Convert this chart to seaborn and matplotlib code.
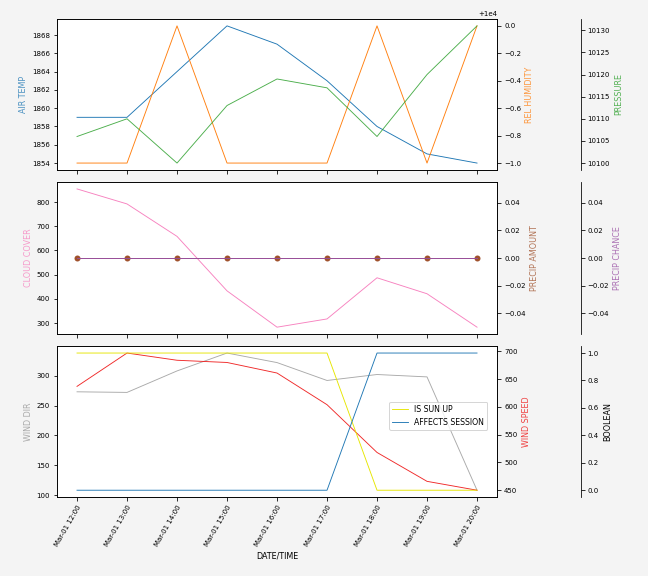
import matplotlib
matplotlib.use("Agg")
import matplotlib.pyplot as plt
import matplotlib.dates as mdates
import seaborn as sns
import pandas as pd

times = ["2024-03-01 12:00", "2024-03-01 13:00", "2024-03-01 14:00", "2024-03-01 15:00",
         "2024-03-01 16:00", "2024-03-01 17:00", "2024-03-01 18:00", "2024-03-01 19:00",
         "2024-03-01 20:00"]
air_temp = [1859, 1859, 1864, 1869, 1867, 1863, 1858, 1855, 1854]
rel_humidity = [9999, 9999, 10000, 9999, 9999, 9999, 10000, 9999, 10000]
pressure = [10106, 10110, 10100, 10113, 10119, 10117, 10106, 10120, 10131]
cloud_cover = [854, 792, 658, 433, 283, 317, 487, 421, 283]
precip_amount = [0, 0, 0, 0, 0, 0, 0, 0, 0]
precip_chance = [0, 0, 0, 0, 0, 0, 0, 0, 0]
wind_dir = [273, 272, 308, 338, 322, 292, 302, 298, 108]
wind_speed = [637, 697, 684, 680, 661, 604, 518, 466, 450]
is_sun_up = [1, 1, 1, 1, 1, 1, 0, 0, 0]
affects_session = [0, 0, 0, 0, 0, 0, 1, 1, 1]

df = pd.DataFrame({
    "t": pd.to_datetime(times),
    "air_temp": air_temp, "rel_humidity": rel_humidity, "pressure": pressure,
    "cloud_cover": cloud_cover, "precip_amount": precip_amount, "precip_chance": precip_chance,
    "wind_dir": wind_dir, "wind_speed": wind_speed,
    "is_sun_up": is_sun_up, "affects_session": affects_session,
})

plt.rcParams["font.size"] = 7
plt.rcParams["axes.labelsize"] = 8
fig = plt.figure(figsize=(9, 8), dpi=72, facecolor="#f4f4f4")
left, width = 0.088, 0.679
ax1 = fig.add_axes([left, 0.705, width, 0.262])
ax2 = fig.add_axes([left, 0.420, width, 0.264], sharex=ax1)
ax3 = fig.add_axes([left, 0.137, width, 0.262], sharex=ax1)

lw = 0.9
OFF = 1.19

def third(ax):
    t = ax.twinx()
    t.spines["right"].set_position(("axes", OFF))
    for s in ["top", "left", "bottom"]:
        t.spines[s].set_visible(False)
    t.patch.set_visible(False)
    return t

# Top panel
sns.lineplot(data=df, x="t", y="air_temp", ax=ax1, color="#1f77b4", lw=lw)
ax1.set_ylabel("AIR TEMP", color="#1f77b4", alpha=0.8)
a1b = ax1.twinx()
sns.lineplot(data=df, x="t", y="rel_humidity", ax=a1b, color="#ff7f0e", lw=lw)
a1b.set_ylabel("REL HUMIDITY", color="#ff7f0e", alpha=0.8)
a1c = third(ax1)
sns.lineplot(data=df, x="t", y="pressure", ax=a1c, color="#2ca02c", lw=lw, alpha=0.85)
a1c.set_ylabel("PRESSURE", color="#2ca02c", alpha=0.8)

# Middle panel
sns.lineplot(data=df, x="t", y="cloud_cover", ax=ax2, color="#f781bf", lw=lw)
ax2.set_ylabel("CLOUD COVER", color="#f781bf", alpha=0.8)
a2b = ax2.twinx()
sns.lineplot(data=df, x="t", y="precip_amount", ax=a2b, color="#a0522d", lw=lw,
             marker="o", markersize=6, markeredgewidth=0)
a2b.set_ylabel("PRECIP AMOUNT", color="#a0522d", alpha=0.8)
a2c = third(ax2)
sns.lineplot(data=df, x="t", y="precip_chance", ax=a2c, color="#984ea3", lw=lw)
a2c.set_ylabel("PRECIP CHANCE", color="#984ea3", alpha=0.8)

# Bottom panel
sns.lineplot(data=df, x="t", y="wind_dir", ax=ax3, color="darkgray", lw=lw)
ax3.set_ylabel("WIND DIR", color="darkgray")
a3b = ax3.twinx()
sns.lineplot(data=df, x="t", y="wind_speed", ax=a3b, color="#ee1111", lw=lw, alpha=0.9)
a3b.set_ylabel("WIND SPEED", color="#ee1111", alpha=0.8)
a3c = third(ax3)
sns.lineplot(data=df, x="t", y="is_sun_up", ax=a3c, color="#e6e600", lw=lw)
sns.lineplot(data=df, x="t", y="affects_session", ax=a3c, color="#1f77b4", lw=lw)
a3c.set_ylabel("BOOLEAN")
lines = a3c.get_lines()
a3c.legend(lines[:2], ["IS SUN UP", "AFFECTS SESSION"], loc="center right", fontsize=7.8)
leg = a3c.get_legend()
leg.set_bbox_to_anchor((491 / 648, 0.5 * (0.137 + 0.399) + 0.01), transform=fig.transFigure)

for ax in (ax1, ax2):
    ax.set_xlabel("")
    plt.setp(ax.get_xticklabels(), visible=False)
for ax in (a1b, a1c, a2b, a2c, a3b, a3c):
    ax.set_xlabel("")
ax3.set_xlabel("DATE/TIME")
ax3.xaxis.set_major_locator(mdates.HourLocator())
ax3.xaxis.set_major_formatter(mdates.DateFormatter("%b-%d %H:%M"))
plt.setp(ax3.get_xticklabels(), rotation=60, ha="right", rotation_mode="anchor")

fig.savefig("out.png", dpi=72, facecolor=fig.get_facecolor())
